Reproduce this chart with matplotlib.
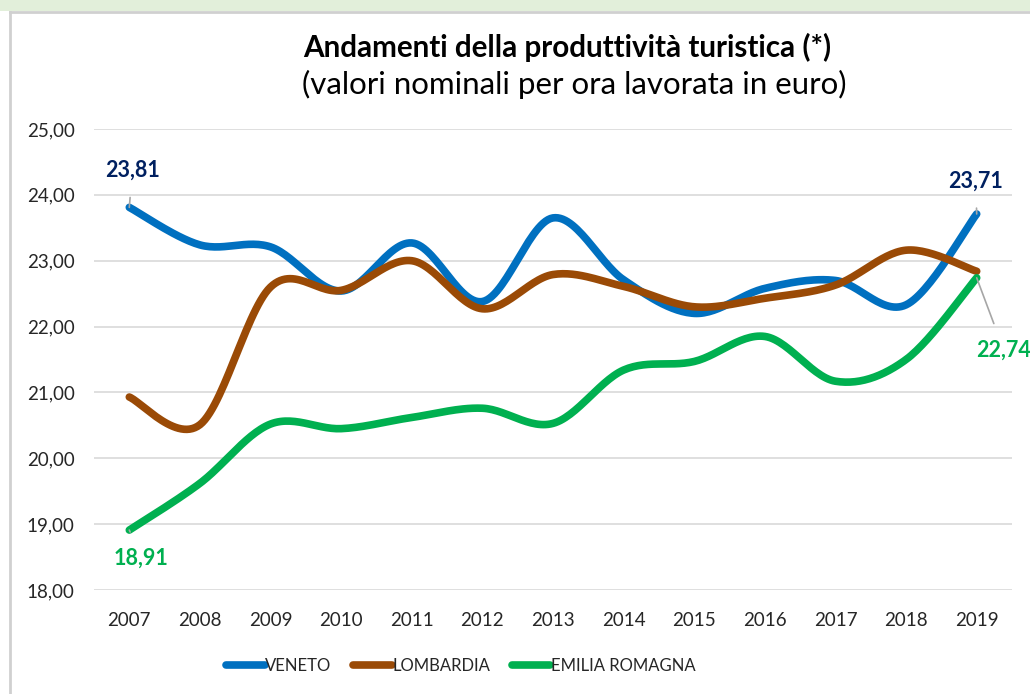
import numpy as np
import matplotlib
matplotlib.use('Agg')
import matplotlib.pyplot as plt
from matplotlib.lines import Line2D
from matplotlib.patches import Rectangle

plt.rcParams['font.family'] = ['Lato', 'DejaVu Sans']

anni = ['2007', '2008', '2009', '2010', '2011', '2012', '2013',
        '2014', '2015', '2016', '2017', '2018', '2019']
veneto = [23.81, 23.24, 23.21, 22.54, 23.27, 22.38, 23.65,
          22.71, 22.20, 22.58, 22.70, 22.33, 23.71]
lombardia = [20.93, 20.51, 22.60, 22.55, 23.00, 22.27, 22.79,
             22.61, 22.30, 22.43, 22.63, 23.16, 22.84]
emilia = [18.91, 19.62, 20.52, 20.45, 20.62, 20.76, 20.53,
          21.34, 21.47, 21.85, 21.17, 21.50, 22.74]

serie = [('VENETO', veneto, '#0070C0'),
         ('LOMBARDIA', lombardia, '#9A4A06'),
         ('EMILIA ROMAGNA', emilia, '#00B050')]


# curva smussata tipo Excel (Catmull-Rom -> Bezier)
def smussa(y, n=30):
    y = np.asarray(y, dtype=float)
    x = np.arange(len(y), dtype=float)
    px = np.concatenate([[x[0]], x, [x[-1]]])
    py = np.concatenate([[y[0]], y, [y[-1]]])
    xs, ys = [], []
    t = np.linspace(0, 1, n)
    for i in range(len(y) - 1):
        p0 = np.array([px[i + 1], py[i + 1]])
        p3 = np.array([px[i + 2], py[i + 2]])
        p1 = p0 + (np.array([px[i + 2], py[i + 2]]) - np.array([px[i], py[i]])) / 6
        p2 = p3 - (np.array([px[i + 3], py[i + 3]]) - np.array([px[i + 1], py[i + 1]])) / 6
        b = (((1 - t) ** 3)[:, None] * p0 + (3 * (1 - t) ** 2 * t)[:, None] * p1
             + (3 * (1 - t) * t ** 2)[:, None] * p2 + (t ** 3)[:, None] * p3)
        xs.extend(b[:, 0])
        ys.extend(b[:, 1])
    return np.array(xs), np.array(ys)


fig = plt.figure(figsize=(10.30, 6.94), dpi=100)

# cornice
fig.patches.append(Rectangle((0, 1 - 11 / 694), 1, 11 / 694, transform=fig.transFigure,
                             facecolor='#E2EFDA', edgecolor='none', zorder=0))
fig.add_artist(Line2D([10 / 1030, 1], [1 - 12 / 694, 1 - 12 / 694], transform=fig.transFigure,
                      color='#D0D0D0', lw=2))
fig.add_artist(Line2D([10 / 1030, 10 / 1030], [0, 1 - 12 / 694], transform=fig.transFigure,
                      color='#D0D0D0', lw=2))

ax = fig.add_axes([94 / 1030, 1 - 590 / 694, 918 / 1030, 461 / 694])

for nome, vals, col in serie:
    xs, ys = smussa(vals)
    ax.plot(xs, ys, color=col, lw=5.5, solid_capstyle='round', label=nome, zorder=3)

ax.set_xlim(-0.5, 12.5)
ax.set_ylim(18, 25)
ax.set_yticks(np.arange(18, 26, 1))
ax.set_yticklabels([f'{v:.2f}'.replace('.', ',') for v in np.arange(18, 26, 1)])
ax.set_xticks(range(len(anni)))
ax.set_xticklabels(anni)
ax.grid(axis='y', color='#D9D9D9', lw=1.2)
ax.set_axisbelow(True)
for s in ax.spines.values():
    s.set_visible(False)
ax.tick_params(axis='both', length=0, labelsize=13.5, colors='#262626')
ax.tick_params(axis='y', pad=14)
ax.tick_params(axis='x', pad=16)

# etichette dati
def etichetta(i, v, testo, col, dx, dy):
    ax.annotate(testo, xy=(i, v), xytext=(dx, dy), textcoords='offset pixels',
                ha='center', va='center', fontsize=15.5, fontweight='bold', color=col,
                arrowprops=dict(arrowstyle='-', color='#A6A6A6', lw=1.2,
                                shrinkA=10, shrinkB=0), zorder=5, annotation_clip=False)

etichetta(0, veneto[0], '23,81', '#002060', 3, 37)
etichetta(12, veneto[12], '23,71', '#002060', -1, 33)
etichetta(12, emilia[12], '22,74', '#00B050', 27, -72)
etichetta(0, emilia[0], '18,91', '#00B050', 12, -28)

fig.text(567 / 1030, 1 - 47 / 694, 'Andamenti della produttività turistica (*)',
         ha='center', va='center', fontsize=21.3, fontweight='bold', color='black')
fig.text(574 / 1030, 1 - 84 / 694, '(valori nominali per ora lavorata in euro)',
         ha='center', va='center', fontsize=22.5, color='black')

leg = fig.legend(loc='center', bbox_to_anchor=(461 / 1030, 1 - 666 / 694), ncol=3,
                 frameon=False, fontsize=12, handlelength=2.3, handletextpad=0.05,
                 columnspacing=1.3)
for t in leg.get_texts():
    t.set_color('#262626')

fig.savefig('out.png', dpi=100)
